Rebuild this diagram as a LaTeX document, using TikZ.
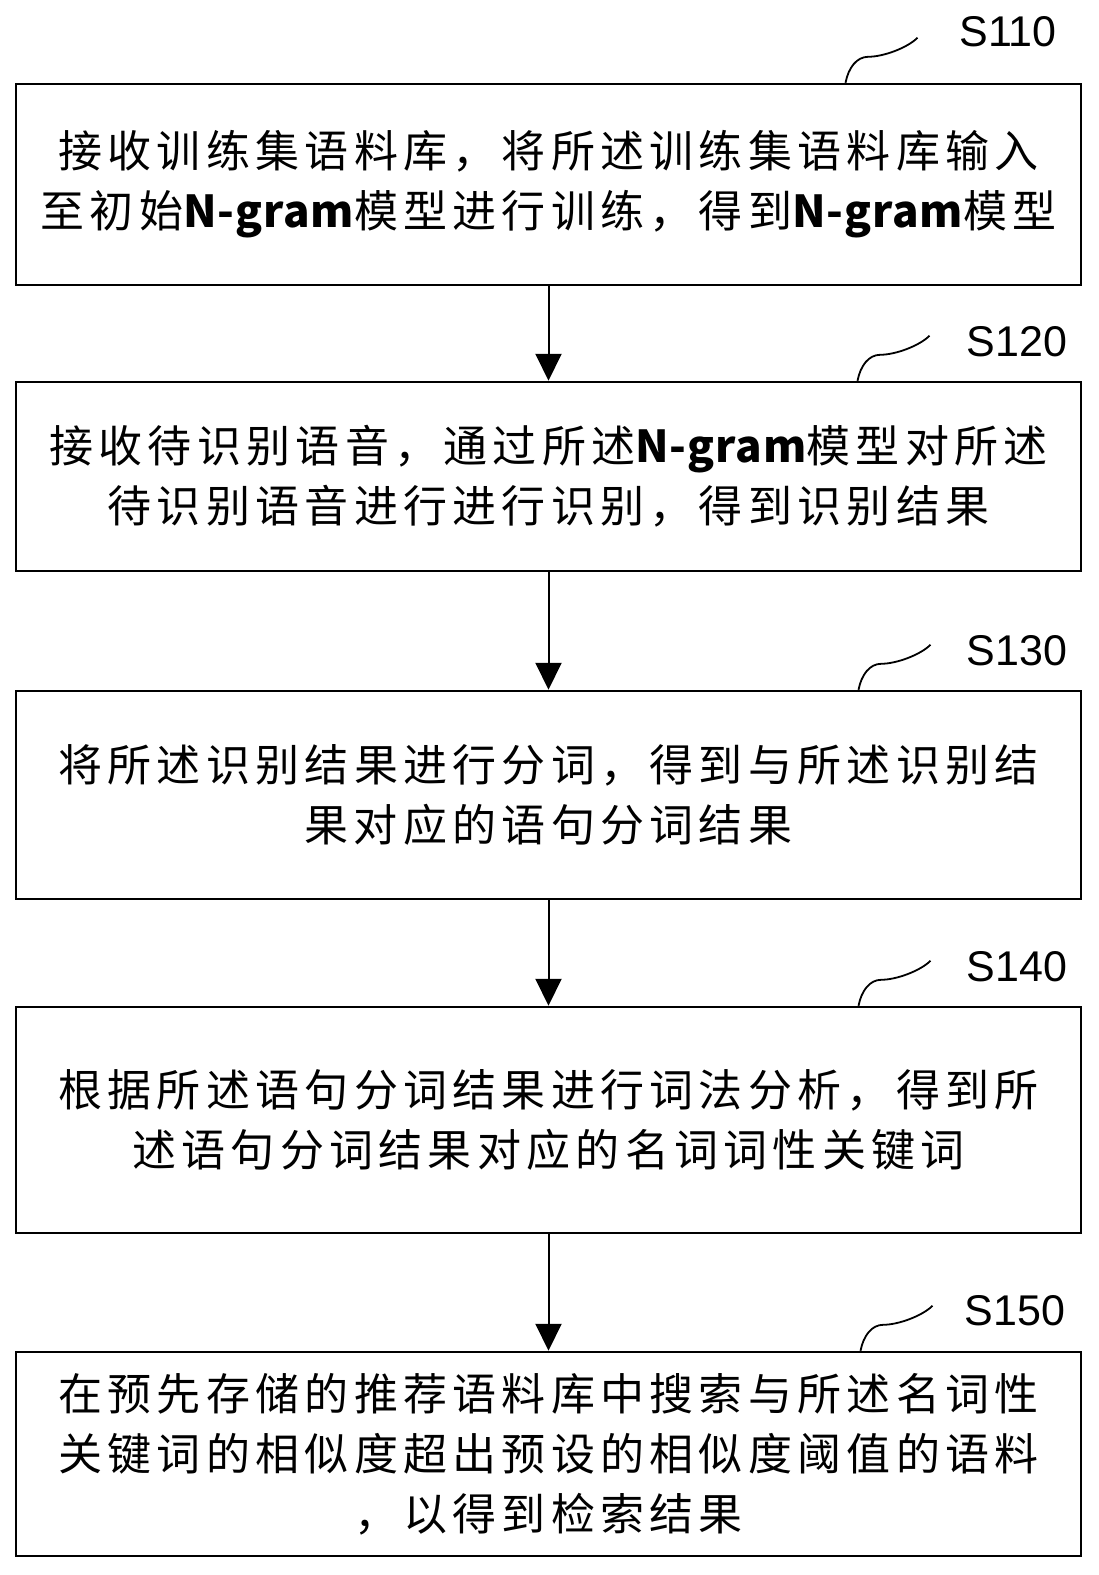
\documentclass[tikz,border=0pt]{standalone}
\usepackage{fontspec}
\setmainfont{Liberation Sans}
\newfontfamily\cjk[LetterSpace=12]{Noto Sans CJK SC}
\usepackage{tikz}
\usetikzlibrary{arrows.meta, positioning}

% model name, set tighter than the Chinese text
\newcommand{\ngram}{{\bfseries\addfontfeature{LetterSpace=2}N-gram}}
% wavy lead line from a box up to its step number
\newcommand{\wiggle}[1]{%
  \draw[line width=1.8pt] (#1) .. controls +(3,-15) and +(-12,0) .. ++(23,-26)
    .. controls +(15,0) and +(-10,10) .. ++(49,-19);}

\begin{document}
\begin{tikzpicture}[x=1pt, y=-1pt,
    stepbox/.style={draw, line width=2.5pt, minimum width=1065pt, text width=1030pt,
                    align=center, font=\cjk\fontsize{44}{60}\selectfont},
    lab/.style={font=\fontsize{43}{50}\selectfont},
    arr/.style={line width=2pt, -{Triangle[width=26pt,length=27pt]}}]
\useasboundingbox (0,0) rectangle (1099,1575);
%
\node[stepbox, minimum height=201pt] (s110) at (548.5,184.5)
  {接收训练集语料库，将所述训练集语料库输入\\至初始\ngram 模型进行训练，得到\ngram 模型};
\node[stepbox, minimum height=189pt] (s120) at (548.5,476.5)
  {接收待识别语音，通过所述\ngram 模型对所述\\待识别语音进行进行识别，得到识别结果};
\node[stepbox, minimum height=208pt] (s130) at (548.5,795)
  {将所述识别结果进行分词，得到与所述识别结\\果对应的语句分词结果};
\node[stepbox, minimum height=226pt] (s140) at (548.5,1120)
  {根据所述语句分词结果进行词法分析，得到所\\述语句分词结果对应的名词词性关键词};
\node[stepbox, minimum height=204pt] (s150) at (548.5,1454)
  {在预先存储的推荐语料库中搜索与所述名词性\\关键词的相似度超出预设的相似度阈值的语料\\，以得到检索结果};
%
\node[lab] (l110) at (1008,32) {S110};
\node[lab] (l120) at (1017,342) {S120};
\node[lab] (l130) at (1017,651) {S130};
\node[lab] (l140) at (1017,967) {S140};
\node[lab] (l150) at (1015,1311) {S150};
%
\wiggle{[xshift=297pt]s110.north}
\wiggle{[xshift=309pt]s120.north}
\wiggle{[xshift=310pt]s130.north}
\wiggle{[xshift=310pt]s140.north}
\wiggle{[xshift=312pt]s150.north}
%
\draw[arr] (s110) -- (s120);
\draw[arr] (s120) -- (s130);
\draw[arr] (s130) -- (s140);
\draw[arr] (s140) -- (s150);
%
\end{tikzpicture}
\end{document}
